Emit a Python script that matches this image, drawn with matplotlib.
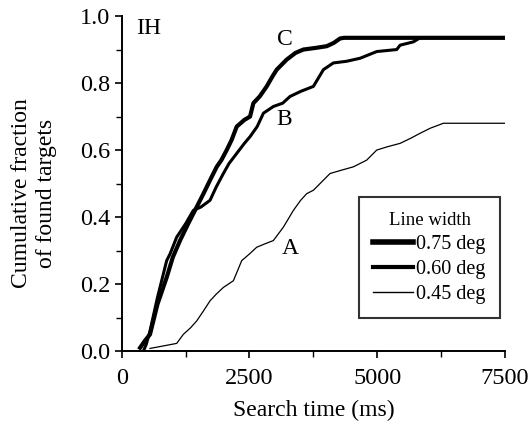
import matplotlib
matplotlib.use('Agg')
import matplotlib.pyplot as plt
from matplotlib.ticker import MultipleLocator

plt.rcParams['font.family'] = ['Liberation Serif', 'DejaVu Serif']

# data (search time in ms, cumulative fraction)
c_x = [360, 450, 554, 700, 880, 1000, 1141, 1300, 1467, 1600, 1728, 1859, 1950, 2054,
       2150, 2250, 2400, 2511, 2576, 2700, 2837, 2950, 3033, 3228, 3400, 3554, 3800,
       4011, 4150, 4272, 4350, 7500]
c_y = [0.01, 0.03, 0.05, 0.14, 0.22, 0.28, 0.33, 0.38, 0.43, 0.47, 0.51, 0.55, 0.57, 0.60,
       0.63, 0.67, 0.69, 0.70, 0.74, 0.76, 0.79, 0.82, 0.84, 0.87, 0.89, 0.90, 0.905,
       0.91, 0.92, 0.933, 0.935, 0.935]

b_x = [424, 480, 554, 700, 880, 946, 1076, 1250, 1402, 1550, 1728, 1850, 1989, 2100,
       2250, 2400, 2511, 2650, 2772, 2967, 3150, 3293, 3500, 3750, 3946, 4141, 4400,
       4663, 4989, 5380, 5446, 5707, 5837, 7500]
b_y = [0.0, 0.02, 0.06, 0.16, 0.27, 0.29, 0.34, 0.38, 0.42, 0.43, 0.45, 0.49, 0.53, 0.56,
       0.59, 0.62, 0.64, 0.67, 0.71, 0.73, 0.74, 0.76, 0.775, 0.79, 0.84, 0.86, 0.865,
       0.874, 0.894, 0.90, 0.913, 0.923, 0.935, 0.935]

a_x = [554, 800, 1076, 1206, 1350, 1467, 1600, 1728, 1850, 1989, 2185, 2348, 2500, 2641,
       2800, 2967, 3163, 3359, 3500, 3620, 3750, 3880, 4076, 4300, 4533, 4793, 4989,
       5200, 5446, 5650, 5837, 6033, 6293, 7500]
a_y = [0.008, 0.015, 0.023, 0.05, 0.07, 0.09, 0.12, 0.15, 0.17, 0.19, 0.21, 0.27, 0.29, 0.31,
       0.32, 0.33, 0.37, 0.42, 0.45, 0.47, 0.48, 0.50, 0.53, 0.54, 0.55, 0.57, 0.60,
       0.61, 0.62, 0.635, 0.65, 0.665, 0.68, 0.68]

legend_labels = ['0.75 deg', '0.60 deg', '0.45 deg']

fig = plt.figure(figsize=(5.3, 4.22), dpi=100)
ax = fig.add_axes([0.2296, 0.168, 0.7234, 0.794])

ax.plot(c_x, c_y, color='black', lw=3.0, solid_joinstyle='round', label=legend_labels[0])
ax.plot(b_x, b_y, color='black', lw=2.2, solid_joinstyle='round', label=legend_labels[1])
ax.plot(a_x, a_y, color='black', lw=0.9, label=legend_labels[2])

ax.set_xlim(0, 7500)
ax.set_ylim(0, 1.0)
ax.set_xticks([0, 2500, 5000, 7500])
ax.set_yticks([0.0, 0.2, 0.4, 0.6, 0.8, 1.0])
ax.set_yticklabels(['0.0', '0.2', '0.4', '0.6', '0.8', '1.0'])
ax.xaxis.set_minor_locator(MultipleLocator(1250))
ax.yaxis.set_minor_locator(MultipleLocator(0.1))
ax.tick_params(which='major', direction='out', length=5, width=1.2, labelsize=17.5, pad=3)
ax.tick_params(axis='x', which='major', pad=7)
ax.tick_params(which='minor', direction='out', length=4, width=1.0)
ax.spines['top'].set_visible(False)
ax.spines['right'].set_visible(False)
ax.spines['left'].set_linewidth(1.4)
ax.spines['bottom'].set_linewidth(1.4)

ax.set_xlabel('Search time (ms)', fontsize=17, labelpad=8)
ax.set_ylabel('Cumulative fraction\nof found targets', fontsize=17, linespacing=1.25)
ax.yaxis.set_label_coords(-0.168, 0.47)

ax.text(522, 0.963, 'IH', fontsize=17, ha='center', va='center')
ax.text(3183, 0.93, 'C', fontsize=17, ha='center', va='center')
ax.text(3183, 0.69, 'B', fontsize=17, ha='center', va='center')
ax.text(3293, 0.306, 'A', fontsize=17, ha='center', va='center')

leg = ax.legend(loc='lower left', bbox_to_anchor=(0.619, 0.0985, 0.368, 0.358), mode='expand',
                title='Line width', fontsize=14.5, title_fontsize=13.5, frameon=True,
                fancybox=False, edgecolor='black', handlelength=2.0, handletextpad=0.15,
                labelspacing=0.3, borderpad=0.7, borderaxespad=0)
leg.get_frame().set_linewidth(1.5)
leg.legend_handles[0].set_linewidth(4.0)
leg.legend_handles[1].set_linewidth(3.0)
leg.legend_handles[2].set_linewidth(1.0)

fig.savefig('out.png', dpi=100)
